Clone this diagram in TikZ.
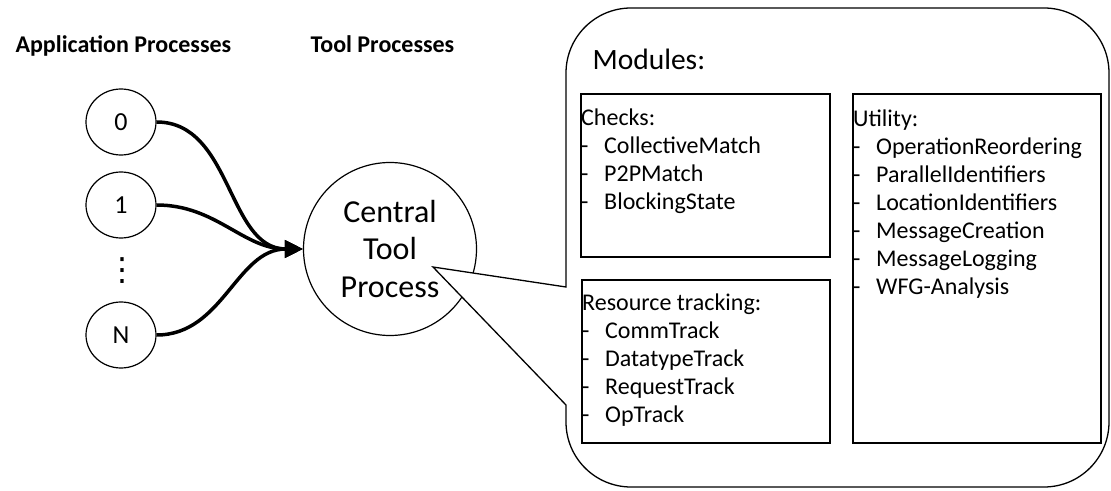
\documentclass[tikz,border=0pt]{standalone}
\usepackage{fontspec}
\setmainfont{Carlito}
\newfontfamily\symfont{DejaVu Sans}
\usetikzlibrary{shapes,arrows.meta,positioning,calc}

\newcommand{\moditem}[1]{\makebox[23pt][l]{-}#1}

\begin{document}
\begin{tikzpicture}[
  x=1pt, y=1pt,
  proc/.style={ellipse, draw, line width=1.2pt, minimum width=70pt, minimum height=66pt, inner sep=0pt, font=\fontsize{26}{30}\selectfont},
  central/.style={circle, draw, line width=1.2pt, minimum size=173pt, inner sep=0pt, align=center, font=\fontsize{32}{37.5}\selectfont},
  head/.style={anchor=base west, font=\fontsize{24}{28}\selectfont\bfseries},
  modbox/.style={rectangle, draw, line width=1.8pt, anchor=north west, inner sep=0pt},
  modtext/.style={anchor=north west, align=left, inner sep=0pt, font=\fontsize{24}{28}\selectfont},
  link/.style={line width=3.5pt, -{Triangle[length=18pt, width=17pt]}, out=0, in=180}
]
\useasboundingbox (0,0) rectangle (1111,490);

% Headings
\node[head] (apphead) at (12,437) {Application Processes};
\node[head] (toolhead) at (307,437) {Tool Processes};

% Application processes
\node[proc] (p0) at (121,368) {0};
\node[proc] (p1) at (121,285) {1};
\node[inner sep=0pt, font=\fontsize{32}{36}\symfont] (dots) at (122,219) {⋮};
\node[proc] (pN) at (121,155) {N};

% Central tool process
\node[central] (central) at (390,241) {Central\\Tool\\Process};

% Arrows
\draw[link] (p0.east) to (central.west);
\draw[link] (p1.east) to (central.west);
\draw[link] (pN.east) to (central.west);

% Callout with modules
\coordinate (tip) at (433,223);
\draw[line width=1.3pt, fill=white] (566,203) -- (566,417)
  arc[start angle=180, end angle=90, radius=65] -- (1044,482)
  arc[start angle=90, end angle=0, radius=65] -- (1109,68)
  arc[start angle=0, end angle=-90, radius=65] -- (631,3)
  arc[start angle=270, end angle=180, radius=65] -- (566,85)
  -- (tip) -- cycle;

\node[anchor=base west, font=\fontsize{29.5}{35}\selectfont] (modules) at (589,420) {Modules:};

\node[modbox, minimum width=249pt, minimum height=163pt] (checks) at (580,397) {};
\node[modbox, minimum width=248pt, minimum height=163pt] (restrack) at (581,211) {};
\node[modbox, minimum width=248pt, minimum height=349pt] (utility) at (852,397) {};

\node[modtext] (checkstext) at ($(checks.north west)+(1,-16)$) {Checks:\\
  \moditem{CollectiveMatch}\\
  \moditem{P2PMatch}\\
  \moditem{BlockingState}};
\node[modtext] (restracktext) at ($(restrack.north west)+(1,-15)$) {Resource tracking:\\
  \moditem{CommTrack}\\
  \moditem{DatatypeTrack}\\
  \moditem{RequestTrack}\\
  \moditem{OpTrack}};
\node[modtext] (utilitytext) at ($(utility.north west)+(1,-17)$) {Utility:\\
  \moditem{OperationReordering}\\
  \moditem{ParallelIdentifiers}\\
  \moditem{LocationIdentifiers}\\
  \moditem{MessageCreation}\\
  \moditem{MessageLogging}\\
  \moditem{WFG-Analysis}};

\end{tikzpicture}
\end{document}
